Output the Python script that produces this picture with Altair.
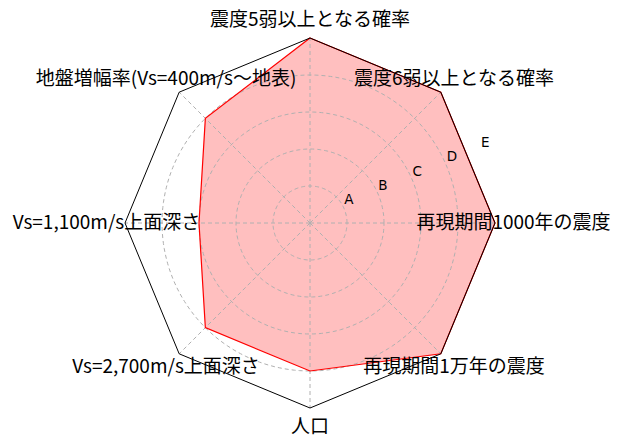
import numpy as np
import pandas as pd
import altair as alt

categories = [
    "震度5弱以上となる確率",
    "震度6弱以上となる確率",
    "再現期間1000年の震度",
    "再現期間1万年の震度",
    "人口",
    "Vs=2,700m/s上面深さ",
    "Vs=1,100m/s上面深さ",
    "地盤増幅率(Vs=400m/s〜地表)",
]
values = [5, 5, 5, 5, 4, 4, 3, 4]
level_labels = ["A", "B", "C", "D", "E"]
level_values = [1, 2, 3, 4, 5]

PAD = 8
W, H = 607 - 2 * PAD, 430 - 2 * PAD
K = 37.0                      # pixels per unit
CX, CY = 302 - PAD, 215 - PAD  # center within plot area
RMAX = 5
LABEL_R = 5.5

n = len(categories)
ang = np.deg2rad(90 - np.arange(n) * 360 / n)

xs = alt.Scale(domain=[-CX / K, (W - CX) / K], nice=False, zero=False)
ys = alt.Scale(domain=[-(H - CY) / K, CY / K], nice=False, zero=False)
X = lambda f: alt.X(f, type="quantitative", scale=xs, axis=None)
Y = lambda f: alt.Y(f, type="quantitative", scale=ys, axis=None)

# data polygon
poly = pd.DataFrame({
    "i": np.arange(n),
    "x": np.array(values) * np.cos(ang),
    "y": np.array(values) * np.sin(ang),
})
fill = alt.Chart(poly).mark_line(
    interpolate="linear-closed", fill="red", fillOpacity=0.25, stroke="red",
    strokeOpacity=0, strokeWidth=0,
).encode(x=X("x"), y=Y("y"), order="i:O")
outline = alt.Chart(poly).mark_line(
    interpolate="linear-closed", color="red", strokeWidth=1.2,
).encode(x=X("x"), y=Y("y"), order="i:O")

# grid circles
t = np.linspace(0, 2 * np.pi, 181)
rows = []
for lv in level_values[:-1]:
    for j, tt in enumerate(t):
        rows.append({"lv": lv, "j": j, "x": lv * np.cos(tt), "y": lv * np.sin(tt)})
circ = pd.DataFrame(rows)
circles = alt.Chart(circ).mark_line(
    color="#b0b0b0", strokeWidth=1, strokeDash=[4, 3],
).encode(x=X("x"), y=Y("y"), detail="lv:N", order="j:Q")

# spokes
sp = pd.DataFrame({
    "x0": np.zeros(n), "y0": np.zeros(n),
    "x1": RMAX * np.cos(ang), "y1": RMAX * np.sin(ang),
})
spokes = alt.Chart(sp).mark_rule(
    color="#b0b0b0", strokeWidth=1, strokeDash=[4, 3],
).encode(x=X("x0"), y=Y("y0"), x2="x1", y2="y1")

# outer frame
fr = pd.DataFrame({
    "i": np.arange(n + 1),
    "x": RMAX * np.cos(np.append(ang, ang[0])),
    "y": RMAX * np.sin(np.append(ang, ang[0])),
})
frame = alt.Chart(fr).mark_line(color="black", strokeWidth=1).encode(
    x=X("x"), y=Y("y"), order="i:Q")

# category labels
lab = pd.DataFrame({
    "label": categories,
    "x": LABEL_R * np.cos(ang),
    "y": LABEL_R * np.sin(ang),
})
labels = alt.Chart(lab).mark_text(
    font="Noto Sans CJK JP", fontSize=19, align="center", baseline="middle",
    color="black",
).encode(x=X("x"), y=Y("y"), text="label:N")

# radial tick labels
ra = np.deg2rad(22.5)
rl = pd.DataFrame({
    "label": level_labels,
    "x": np.array(level_values) * np.cos(ra),
    "y": np.array(level_values) * np.sin(ra),
})
rlabels = alt.Chart(rl).mark_text(
    font="DejaVu Sans", fontSize=13.5, align="left", baseline="bottom",
    color="black", dy=-2,
).encode(x=X("x"), y=Y("y"), text="label:N")

chart = alt.layer(fill, circles, spokes, outline, frame, rlabels, labels).properties(
    width=W, height=H, padding=PAD,
    autosize=alt.AutoSizeParams(type="none"),
).configure_view(stroke=None)

chart.save("out.html", embed_options={"renderer": "svg", "actions": False})
